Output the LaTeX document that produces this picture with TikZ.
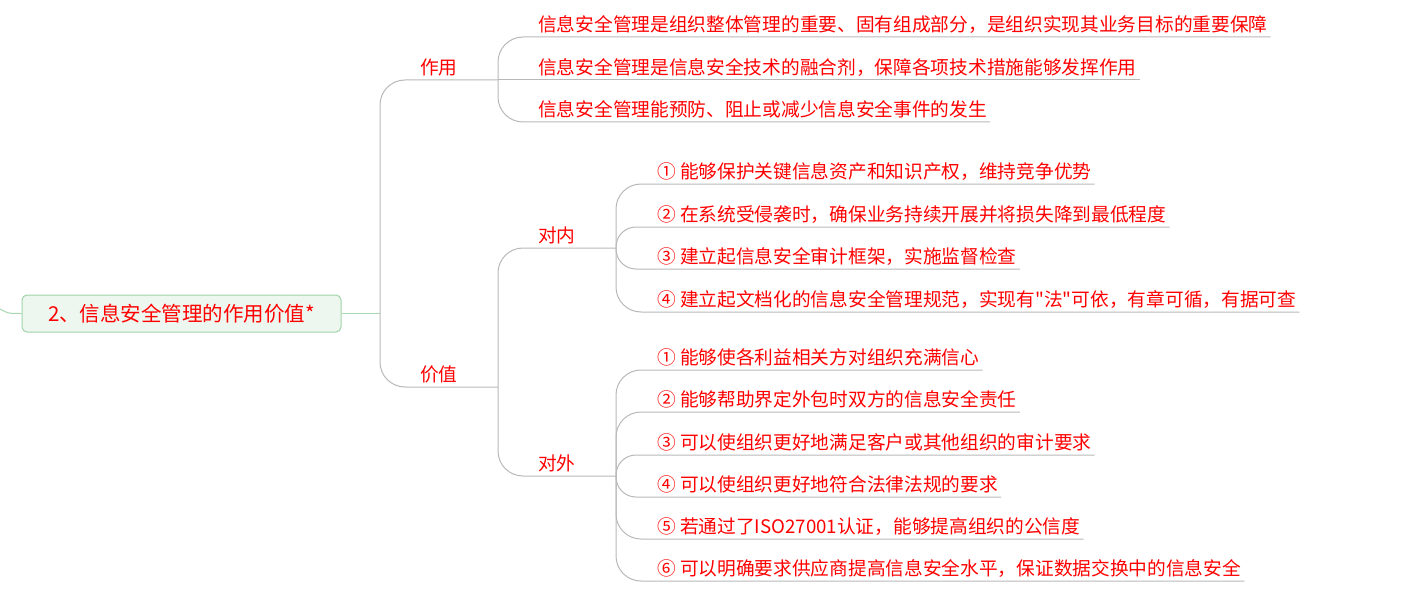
\documentclass[tikz,border=0pt]{standalone}
\usepackage{fontspec}
\setmainfont{Noto Sans CJK SC}[Ligatures=TeXOff]
\definecolor{linegray}{HTML}{B8B8B8}
\definecolor{rootline}{HTML}{A6D7B0}
\definecolor{rootfill}{HTML}{EDF7EF}
\definecolor{rootdraw}{HTML}{9FD3A9}
\definecolor{txtred}{HTML}{FF0000}
\begin{document}
\begin{tikzpicture}[x=1pt,y=-1pt,
  conn/.style={draw=linegray, line width=1pt, rounded corners=#1},
  conn/.default=25,
  rconn/.style={draw=rootline, line width=1pt},
  topic/.style={anchor=south west, inner sep=0pt, text height=14pt, text depth=5pt,
    text=txtred, font=\fontsize{18.7}{20}\selectfont},
  rootbox/.style={draw=rootdraw, fill=rootfill, line width=1pt, rounded corners=5pt,
    minimum width=319pt, minimum height=37pt, inner sep=0pt, text=txtred,
    font=\fontsize{20.5}{22}\selectfont}]
\useasboundingbox (0,0) rectangle (1410,599);

% root
\node[rootbox] (root) at (181.5,313.5) {2、信息安全管理的作用价值*};
\coordinate (lin) at (0,309);
\coordinate (h0) at (380,313.5);
\draw[rconn] (lin) .. controls (8,313.5) .. (root.west);
\draw[rconn] (root.east) -- (h0);

% level 1
\node[topic] (zy) at (420,80) {作用};
\node[topic] (jz) at (420,387) {价值};
\coordinate (h1) at (498,80);
\coordinate (h2) at (498,387);
\draw[conn] (h0) |- (h1);
\draw[conn] (h0) |- (h2);

% 作用 children
\node[topic] (a1) at (538,37) {信息安全管理是组织整体管理的重要、固有组成部分，是组织实现其业务目标的重要保障};
\node[topic] (a2) at (538,80) {信息安全管理是信息安全技术的融合剂，保障各项技术措施能够发挥作用};
\node[topic] (a3) at (538,122) {信息安全管理能预防、阻止或减少信息安全事件的发生};
\draw[conn] (h1) |- ([xshift=3pt]a1.south east);
\draw[conn] (h1) -- ([xshift=3pt]a2.south east);
\draw[conn] (h1) |- ([xshift=3pt]a3.south east);

% 价值 children
\node[topic] (dn) at (538,248) {对内};
\node[topic] (dw) at (538,476) {对外};
\coordinate (h21) at (616,248);
\coordinate (h22) at (616,476);
\draw[conn] (h2) |- (h21);
\draw[conn] (h2) |- (h22);

% 对内 children
\node[topic] (n1) at (657,184) {① 能够保护关键信息资产和知识产权，维持竞争优势};
\node[topic] (n2) at (657,227) {② 在系统受侵袭时，确保业务持续开展并将损失降到最低程度};
\node[topic] (n3) at (657,269) {③ 建立起信息安全审计框架，实施监督检查};
\node[topic] (n4) at (657,312) {④ 建立起文档化的信息安全管理规范，实现有"法"可依，有章可循，有据可查};
\draw[conn] (h21) |- ([xshift=3pt]n1.south east);
\draw[conn=20] (h21) |- ([xshift=3pt]n2.south east);
\draw[conn=20] (h21) |- ([xshift=3pt]n3.south east);
\draw[conn] (h21) |- ([xshift=3pt]n4.south east);

% 对外 children
\node[topic] (w1) at (657,370) {① 能够使各利益相关方对组织充满信心};
\node[topic] (w2) at (657,412) {② 能够帮助界定外包时双方的信息安全责任};
\node[topic] (w3) at (657,455) {③ 可以使组织更好地满足客户或其他组织的审计要求};
\node[topic] (w4) at (657,497) {④ 可以使组织更好地符合法律法规的要求};
\node[topic] (w5) at (657,539) {⑤ 若通过了ISO27001认证，能够提高组织的公信度};
\node[topic] (w6) at (657,581) {⑥ 可以明确要求供应商提高信息安全水平，保证数据交换中的信息安全};
\draw[conn] (h22) |- ([xshift=3pt]w1.south east);
\draw[conn] (h22) |- ([xshift=3pt]w2.south east);
\draw[conn=20] (h22) |- ([xshift=3pt]w3.south east);
\draw[conn=20] (h22) |- ([xshift=3pt]w4.south east);
\draw[conn] (h22) |- ([xshift=3pt]w5.south east);
\draw[conn] (h22) |- ([xshift=3pt]w6.south east);
\end{tikzpicture}
\end{document}
